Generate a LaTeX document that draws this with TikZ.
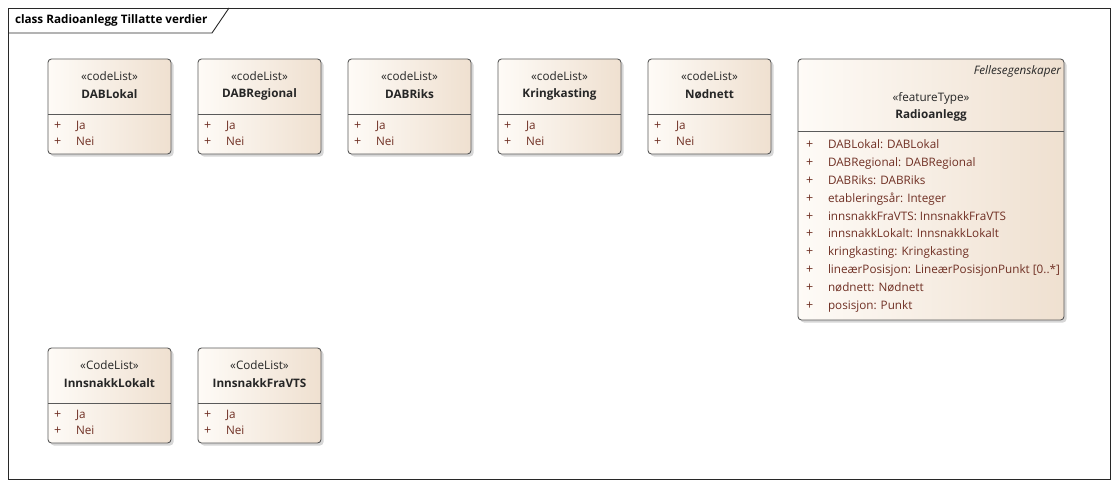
\documentclass[tikz,border=0pt]{standalone}
\usepackage{fontspec}
\setmainfont{Open Sans}
\usetikzlibrary{calc}
\definecolor{framec}{RGB}{40,40,40}
\definecolor{boxline}{RGB}{90,90,90}
\definecolor{fillL}{RGB}{254,251,247}
\definecolor{fillR}{RGB}{239,224,208}
\definecolor{attrc}{RGB}{112,48,36}
\tikzset{
  x=1pt, y=-1pt,
  every node/.style={inner sep=0pt, outer sep=0pt, font=\fontsize{11.7}{14}\selectfont},
  umlbox/.style={draw=boxline, line width=0.9pt, rounded corners=3.5pt, left color=fillL, right color=fillR, anchor=north west},
  boxshadow/.style={fill=black!35, opacity=0.45, rounded corners=3.5pt},
  stereo/.style={text=black!85},
  cname/.style={font=\fontsize{11.7}{14}\selectfont\bfseries, text=black!85},
  plus/.style={text=attrc, anchor=base west, font=\fontsize{12.5}{14}\selectfont},
  attr/.style={text=attrc, anchor=base west},
  divider/.style={draw=boxline, line width=0.8pt},
}
% \clbox{name}{left}{top}{stereotype}{title}
\newcommand\clbox[5]{%
  \fill[boxshadow] (#2+2.5,#3+2.5) rectangle ++(123,95);
  \node[umlbox, minimum width=123pt, minimum height=95pt] (#1) at (#2,#3) {};
  \draw[divider] (#2,#3+55) -- (#2+123,#3+55);
  \node[stereo] (#1-st) at (#2+61.5,#3+17) {#4};
  \node[cname] (#1-nm) at (#2+61.5,#3+35.5) {#5};
  \node[plus] (#1-p1) at (#2+6,#3+70) {+};
  \node[attr] (#1-a1) at (#2+28,#3+70) {Ja};
  \node[plus] (#1-p2) at (#2+6,#3+86.3) {+};
  \node[attr] (#1-a2) at (#2+28,#3+86.3) {Nei};
}
\begin{document}
\begin{tikzpicture}
\useasboundingbox (0,0) rectangle (1118,487);
\fill[white] (0,0) rectangle (1118,487);
% diagram frame with title tab
\node[draw=framec, line width=0.9pt, minimum width=1102pt, minimum height=471pt, anchor=north west] (frame) at (8,8) {};
\draw[framec, line width=0.9pt] (8,33) -- (212,33) -- (229,8);
\node[anchor=west, font=\fontsize{11.7}{14}\selectfont\bfseries] (ftitle) at (15,20.5) {class Radioanlegg Tillatte verdier};

% code lists
\clbox{dablokal}{48}{59}{«codeList»}{DABLokal}
\clbox{dabregional}{198}{59}{«codeList»}{DABRegional}
\clbox{dabriks}{348}{59}{«codeList»}{DABRiks}
\clbox{kringkasting}{498}{59}{«codeList»}{Kringkasting}
\clbox{nodnett}{648}{59}{«codeList»}{Nødnett}
\clbox{innsnakklokalt}{48}{348}{«CodeList»}{InnsnakkLokalt}
\clbox{innsnakkfravts}{198}{348}{«CodeList»}{InnsnakkFraVTS}

% feature type
\fill[boxshadow] (800.5,61.5) rectangle ++(266,261);
\node[umlbox, minimum width=266pt, minimum height=261pt] (radio) at (798,59) {};
\draw[divider] (798,131) -- (1064,131);
\node[anchor=east, font=\fontsize{11.7}{14}\selectfont\itshape, text=black!85] (radio-tag) at (1061,71.5) {Fellesegenskaper};
\node[stereo] (radio-st) at (931,98.5) {«featureType»};
\node[cname] (radio-nm) at (931,115.5) {Radioanlegg};
\foreach \t [count=\i from 0] in {DABLokal: DABLokal, DABRegional: DABRegional, DABRiks: DABRiks, etableringsår: Integer, innsnakkFraVTS: InnsnakkFraVTS, innsnakkLokalt: InnsnakkLokalt, kringkasting: Kringkasting, lineærPosisjon: LineærPosisjonPunkt [0..*], nødnett: Nødnett, posisjon: Punkt}{
  \node[plus] (radio-p\i) at (806,148.8+17.8*\i) {+};
  \node[attr] (radio-a\i) at (828,148.8+17.8*\i) {\t};
}
\end{tikzpicture}
\end{document}
